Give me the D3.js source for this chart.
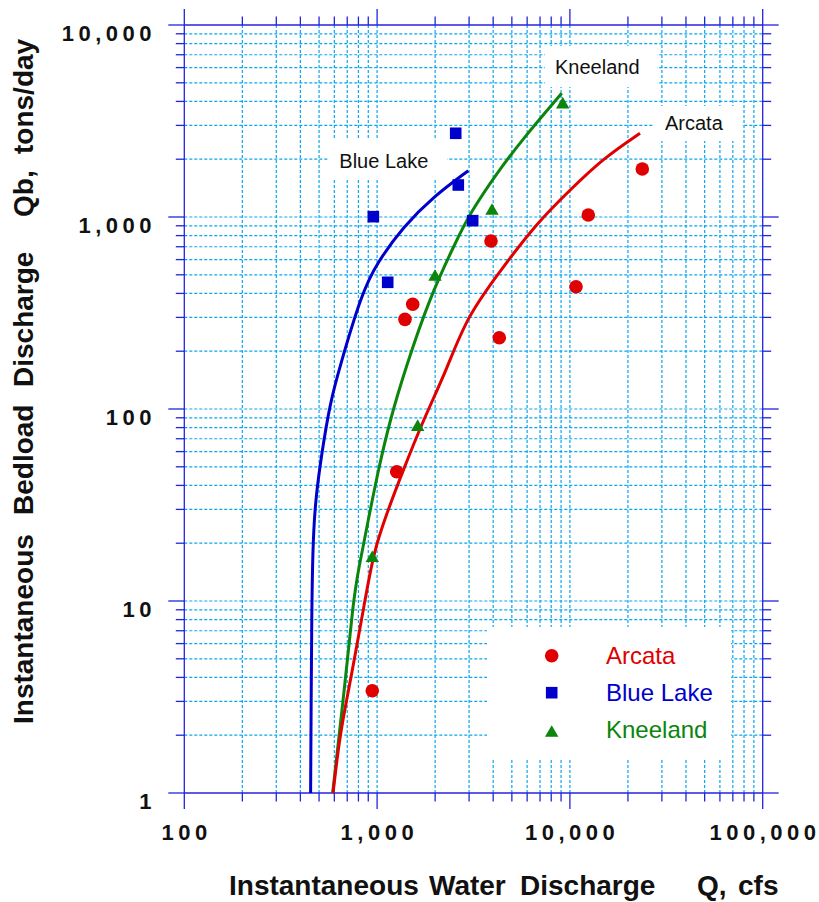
<!DOCTYPE html>
<html><head><meta charset="utf-8">
<script src="https://cdn.jsdelivr.net/npm/d3@7"></script>
<style>
html,body{margin:0;padding:0;background:#fff;}
svg{display:block;}
text{font-family:"Liberation Sans",Arial,Helvetica,sans-serif;}
</style></head>
<body>
<svg id="chart" width="819" height="902"></svg>
<script>
// ---------- data ----------
const xTickValues = [100, 1000, 10000, 100000];
const yTickValues = [1, 10, 100, 1000, 10000];
const seriesNames = ["Arcata", "Blue Lake", "Kneeland"];

// measured points: water discharge Q (cfs) and bedload discharge Qb (tons/day)
const arcataQ   = [944, 1264, 1395, 1530, 3897, 4303, 10758, 12455, 23740];
const arcataQb  = [3.41, 47.1, 293, 351, 750, 235, 433, 1024, 1778];
const blueLakeQ  = [956, 1135, 2557, 2637, 3132];
const blueLakeQb = [1004, 457, 2729, 1468, 957];
const kneelandQ  = [944, 1624, 1997, 3944, 9177];
const kneelandQb = [16.7, 80.5, 487, 1075, 3854];

// fitted rating curves (traced)
const arcataCurveQ   = [591, 642, 724, 866, 956, 1121, 1367, 1736, 2296, 2915, 4513, 6726, 10012, 14905, 23100];
const arcataCurveQb  = [1, 2.05, 3.73, 10.1, 17.7, 28.6, 48.1, 87.6, 160, 303, 551, 927, 1382, 2021, 2729];
const blueLakeCurveQ  = [452, 455, 458, 463, 476, 516, 570, 637, 832, 995, 1367, 1956, 2972];
const blueLakeCurveQb = [1, 3.05, 8.13, 17.7, 32.3, 58.8, 107, 163, 400, 574, 890, 1276, 1742];
const kneelandCurveQ  = [588, 668, 753, 799, 900, 1014, 1167, 1395, 1881, 2588, 3033, 4172, 5733, 9069];
const kneelandCurveQb = [1, 3.05, 10.1, 14.5, 26.4, 48.1, 87.6, 160, 385, 759, 1045, 1689, 2570, 4410];

// ---------- setup ----------
const svg = d3.select('#chart');
const L = 184.3, R = 762.7, T = 25, B = 793;
const x = d3.scaleLog().domain([100, 100000]).range([L, R]);
const y = d3.scaleLog().domain([1, 10000]).range([B, T]);
const fmt = d3.format(",");
const isMajor = v => Math.abs(Math.log10(v) - Math.round(Math.log10(v))) < 1e-9;

const colors = {Arcata: "#e00000", "Blue Lake": "#0000cc", Kneeland: "#0b850b"};
const gridColor = "#0aa6ee";
const axisColor = "#2323dd";

// ---------- gridlines ----------
const g = svg.append('g');
x.ticks().filter(v => v > 100 && v < 100000).forEach(v => {
  g.append('line').attr('x1', x(v)).attr('x2', x(v)).attr('y1', T).attr('y2', B)
    .attr('stroke', gridColor).attr('stroke-width', 1.2).attr('stroke-dasharray', '3,2');
});
y.ticks().filter(v => v > 1 && v < 10000).forEach(v => {
  g.append('line').attr('x1', L).attr('x2', R).attr('y1', y(v)).attr('y2', y(v))
    .attr('stroke', gridColor).attr('stroke-width', 1.2).attr('stroke-dasharray', '3,2');
});

// ---------- white label boxes ----------
const boxes = [
  [328, 140, 119, 39],   // Blue Lake
  [545, 46, 112, 41],    // Kneeland
  [653, 106, 89, 35],    // Arcata
  [487, 627, 244, 131]   // legend
];
boxes.forEach(b => svg.append('rect').attr('x', b[0]).attr('y', b[1]).attr('width', b[2]).attr('height', b[3]).attr('fill', '#fff'));

// ---------- axes frame and ticks ----------
const ax = svg.append('g').attr('stroke', axisColor).attr('stroke-width', 1.3);
ax.append('line').attr('x1', L).attr('x2', R).attr('y1', T).attr('y2', T);
ax.append('line').attr('x1', L).attr('x2', R).attr('y1', B).attr('y2', B);
ax.append('line').attr('x1', L).attr('x2', L).attr('y1', T).attr('y2', B);
ax.append('line').attr('x1', R).attr('x2', R).attr('y1', T).attr('y2', B);
x.ticks().forEach(v => {
  const len = isMajor(v) ? 16 : 8.5;
  ax.append('line').attr('x1', x(v)).attr('x2', x(v)).attr('y1', B).attr('y2', B + len);
  ax.append('line').attr('x1', x(v)).attr('x2', x(v)).attr('y1', T).attr('y2', T - len);
});
y.ticks().forEach(v => {
  const len = isMajor(v) ? 16 : 8.5;
  ax.append('line').attr('x1', L).attr('x2', L - len).attr('y1', y(v)).attr('y2', y(v));
  ax.append('line').attr('x1', R).attr('x2', R + len).attr('y1', y(v)).attr('y2', y(v));
});

// ---------- tick labels ----------
const LS = 4.5;
xTickValues.forEach(v => {
  svg.append('text').attr('x', x(v) + LS / 2).attr('y', 840).attr('text-anchor', 'middle')
    .attr('font-size', 22).attr('font-weight', 'bold').attr('letter-spacing', LS).attr('fill', '#111')
    .text(fmt(v));
});
yTickValues.forEach(v => {
  svg.append('text').attr('x', 151.5 + LS).attr('y', y(v) + 15.7).attr('text-anchor', 'end')
    .attr('font-size', 22).attr('font-weight', 'bold').attr('letter-spacing', LS).attr('fill', '#111')
    .text(fmt(v));
});

// ---------- axis titles ----------
const xWords = [["Instantaneous", 229], ["Water", 429], ["Discharge", 520], ["Q,", 697], ["cfs", 738]];
xWords.forEach(w => {
  svg.append('text').attr('x', w[1]).attr('y', 895).attr('font-size', 28).attr('font-weight', 'bold')
    .attr('fill', '#111').text(w[0]);
});
const yWords = [["Instantaneous", 724], ["Bedload", 515], ["Discharge", 387], ["Qb,", 217], ["tons/day", 154]];
yWords.forEach(w => {
  svg.append('text').attr('transform', `translate(33.3,${w[1]}) rotate(-90)`)
    .attr('font-size', 28).attr('font-weight', 'bold').attr('fill', '#111').text(w[0]);
});

// ---------- curves ----------
const line = d3.line().x(d => x(d[0])).y(d => y(d[1])).curve(d3.curveBasis);
const curves = [
  ["Blue Lake", d3.zip(blueLakeCurveQ, blueLakeCurveQb)],
  ["Kneeland", d3.zip(kneelandCurveQ, kneelandCurveQb)],
  ["Arcata", d3.zip(arcataCurveQ, arcataCurveQb)]
];
curves.forEach(c => {
  svg.append('path').attr('d', line(c[1])).attr('fill', 'none')
    .attr('stroke', colors[c[0]]).attr('stroke-width', 3).attr('stroke-linecap', 'butt');
});

// ---------- markers ----------
const triPath = d3.symbol(d3.symbolTriangle, 78)();
function marker(sel, name, cx, cy) {
  if (name === "Arcata") {
    sel.append('circle').attr('cx', cx).attr('cy', cy).attr('r', 6.8).attr('fill', colors[name]);
  } else if (name === "Blue Lake") {
    sel.append('rect').attr('x', cx - 5.8).attr('y', cy - 5.8).attr('width', 11.6).attr('height', 11.6).attr('fill', colors[name]);
  } else {
    sel.append('path').attr('d', triPath).attr('transform', `translate(${cx},${cy})`).attr('fill', colors[name]);
  }
}
const mk = svg.append('g');
d3.zip(arcataQ, arcataQb).forEach(d => marker(mk, "Arcata", x(d[0]), y(d[1])));
d3.zip(blueLakeQ, blueLakeQb).forEach(d => marker(mk, "Blue Lake", x(d[0]), y(d[1])));
d3.zip(kneelandQ, kneelandQb).forEach(d => marker(mk, "Kneeland", x(d[0]), y(d[1])));

// ---------- curve labels ----------
const curveLabels = [["Blue Lake", 339.3, 167.7], ["Kneeland", 555, 74.3], ["Arcata", 665, 130]];
curveLabels.forEach(l => {
  svg.append('text').attr('x', l[1]).attr('y', l[2]).attr('font-size', 20).attr('fill', '#111').text(l[0]);
});

// ---------- legend ----------
const legY = [655.7, 692.7, 733];
const legBase = [664.3, 701, 738.3];
seriesNames.forEach((n, i) => {
  marker(svg, n, 551.7, legY[i]);
  svg.append('text').attr('x', 606).attr('y', legBase[i]).attr('font-size', 24)
    .attr('fill', colors[n]).text(n);
});
</script>
</body></html>
